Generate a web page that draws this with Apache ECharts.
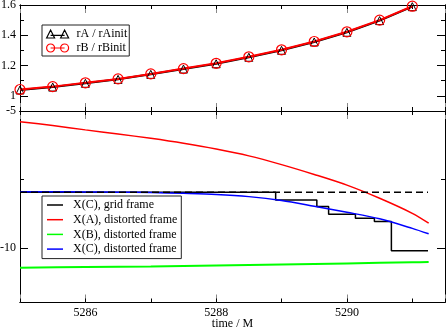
<!DOCTYPE html>
<html><head><meta charset="utf-8">
<script src="https://cdn.jsdelivr.net/npm/echarts@6/dist/echarts.min.js"></script>
<style>html,body{margin:0;padding:0;background:#fff}#c{width:447px;height:329px}</style>
</head><body><div id="c"></div>
<script>
// ---- data ----
const times = [5285, 5285.5, 5286, 5286.5, 5287, 5287.5, 5288, 5288.5, 5289, 5289.5, 5290, 5290.5, 5291];
const rA = [1.039, 1.058, 1.083, 1.109, 1.142, 1.177, 1.212, 1.255, 1.301, 1.356, 1.420, 1.497, 1.589];
const rB = [1.042, 1.061, 1.086, 1.112, 1.145, 1.180, 1.215, 1.258, 1.304, 1.359, 1.423, 1.500, 1.592];

const tCurve = [5285, 5285.5, 5286, 5286.5, 5287, 5287.5, 5288, 5288.5, 5289, 5289.5, 5290, 5290.5, 5291, 5291.25];
const XA = [-5.39, -5.53, -5.69, -5.84, -6.00, -6.18, -6.39, -6.64, -6.96, -7.32, -7.71, -8.19, -8.74, -9.10];
const XC = [-7.95, -7.95, -7.96, -7.97, -7.98, -8.01, -8.05, -8.13, -8.27, -8.48, -8.70, -8.94, -9.29, -9.49];

const tB = [5285, 5286, 5287, 5288, 5289, 5290, 5291, 5291.25];
const XB = [-10.73, -10.70, -10.68, -10.65, -10.61, -10.57, -10.53, -10.52];

const tGrid = [5285, 5288.91, 5289.54, 5289.72, 5290.13, 5290.42, 5290.68, 5291.24];
const XCgrid = [-7.97, -8.25, -8.49, -8.77, -8.92, -9.04, -10.11, -10.11];

const tRef = [5285, 5291.24];
const XCref = [-7.97, -7.97];

const topLegend = ['rA / rAinit', 'rB / rBinit'];
const botLegend = ['X(C), grid frame', 'X(A), distorted frame', 'X(B), distorted frame', 'X(C), distorted frame'];
const xLabelVals = [5286, 5288, 5290];
const yTopLabelVals = [1, 1.2, 1.4, 1.6];
const yBotLabelVals = [-10, -5];
const xName = 'time / M';

// ---- build ----
const FONT = 'Liberation Serif';
const zip = (xs, ys) => xs.map((x, i) => [x, ys[i]]);
const hasVal = (arr, v) => arr.some(a => Math.abs(a - v) < 1e-6);

const X_MIN = 5285, X_MAX = 5291.5;
function xAxis(grid, pos, major, opts) {
  return Object.assign({
    type: 'value', gridIndex: grid, position: pos, min: X_MIN, max: X_MAX,
    minInterval: major ? 2 : 1, maxInterval: major ? 2 : 1, splitNumber: 3,
    axisLine: { show: true, onZero: false, lineStyle: { color: '#000', width: 1 } },
    axisTick: { show: true, inside: true, length: major ? 8 : 4, lineStyle: { color: major ? '#888' : '#000', width: 1 } },
    axisLabel: { show: false },
    splitLine: { show: false }
  }, opts || {});
}
function yAxis(grid, pos, min, max, iv, major, labels) {
  return {
    type: 'value', gridIndex: grid, position: pos, min: min, max: max,
    minInterval: iv, maxInterval: iv, splitNumber: Math.round((max - min) / iv),
    axisLine: { show: true, onZero: false, lineStyle: { color: '#000', width: 1 } },
    axisTick: { show: true, inside: true, length: major ? 8 : 4, lineStyle: { color: '#000', width: 1 } },
    axisLabel: labels ? {
      show: true, margin: 4, fontFamily: FONT, fontSize: 12, color: '#000',
      formatter: v => hasVal(labels, v) ? String(+v.toFixed(2)) : ''
    } : { show: false },
    splitLine: { show: false }
  };
}

const xAxes = [
  xAxis(0, 'bottom', true),
  xAxis(0, 'bottom', false),
  xAxis(0, 'top', true),
  xAxis(0, 'top', false),
  xAxis(1, 'bottom', true, {
    axisLabel: { show: true, margin: 4, fontFamily: FONT, fontSize: 12, color: '#000',
      formatter: v => hasVal(xLabelVals, v) ? String(v) : '' },
    name: xName, nameLocation: 'middle', nameGap: 15, nameMoveOverlap: false,
    nameTextStyle: { fontFamily: FONT, fontSize: 12, color: '#000' }
  }),
  xAxis(1, 'bottom', false),
  xAxis(1, 'top', true),
  xAxis(1, 'top', false)
];
const yAxes = [
  yAxis(0, 'left', 0.9, 1.6, 0.2, true, yTopLabelVals),
  yAxis(0, 'left', 0.9, 1.6, 0.1, false),
  yAxis(0, 'right', 0.9, 1.6, 0.2, true),
  yAxis(0, 'right', 0.9, 1.6, 0.1, false),
  yAxis(1, 'left', -12, -5, 5, true, yBotLabelVals),
  yAxis(1, 'left', -12, -5, 2.5, false),
  yAxis(1, 'right', -12, -5, 5, true),
  yAxis(1, 'right', -12, -5, 2.5, false)
];

const triIcon = 'path://M0,8 L4,0 L8,8 Z M4,5.3 L18,5.3 M14,8 L18,0 L22,8 Z';
const cirIcon = 'path://M0,4 A4,4 0 1 1 8,4 A4,4 0 1 1 0,4 Z M4,4 L18,4 M14,4 A4,4 0 1 1 22,4 A4,4 0 1 1 14,4 Z';

const option = {
  animation: false,
  backgroundColor: '#fff',
  grid: [
    { left: 20, right: 2, top: 5, height: 106, outerBoundsMode: 'none', containLabel: false },
    { left: 20, right: 2, top: 111, height: 191.5, outerBoundsMode: 'none', containLabel: false }
  ],
  xAxis: xAxes,
  yAxis: yAxes,
  legend: [
    {
      left: 42, top: 25, orient: 'vertical', selectedMode: false,
      itemWidth: 22, itemHeight: 8, itemGap: 0,
      padding: [2, 2, 1, 4],
      borderColor: '#222', borderWidth: 1, backgroundColor: '#fff',
      textStyle: { fontFamily: FONT, fontSize: 12, color: '#000', lineHeight: 14, padding: [0, 0, 0, 3] },
      data: [
        { name: topLegend[0], icon: triIcon, itemStyle: { color: 'rgba(0,0,0,0)', borderColor: '#000', borderWidth: 1.2 } },
        { name: topLegend[1], icon: cirIcon, itemStyle: { color: 'rgba(0,0,0,0)', borderColor: '#f00', borderWidth: 1.2 } }
      ]
    },
    {
      left: 42, top: 196, orient: 'vertical', selectedMode: false,
      itemWidth: 16, itemHeight: 1.5, itemGap: 0.7,
      padding: [2, 4, 2.5, 5],
      borderColor: '#222', borderWidth: 1, backgroundColor: '#fff',
      textStyle: { fontFamily: FONT, fontSize: 12, color: '#000', lineHeight: 14, padding: [0, 0, 0, 5] },
      data: [
        { name: botLegend[0], icon: 'rect', itemStyle: { color: '#000', borderWidth: 0 } },
        { name: botLegend[1], icon: 'rect', itemStyle: { color: '#f00', borderWidth: 0 } },
        { name: botLegend[2], icon: 'rect', itemStyle: { color: '#0f0', borderWidth: 0 } },
        { name: botLegend[3], icon: 'rect', itemStyle: { color: '#00f', borderWidth: 0 } }
      ]
    }
  ],
  series: [
    {
      name: topLegend[0], type: 'line', xAxisIndex: 0, yAxisIndex: 0,
      data: zip(times, rA), symbol: 'triangle', symbolSize: 8,
      itemStyle: { color: 'rgba(0,0,0,0)', borderColor: '#000', borderWidth: 1 },
      lineStyle: { color: '#000', width: 2 }
    },
    {
      name: topLegend[1], type: 'line', xAxisIndex: 0, yAxisIndex: 0,
      data: zip(times, rB), symbol: 'circle', symbolSize: 10,
      itemStyle: { color: 'rgba(0,0,0,0)', borderColor: '#f00', borderWidth: 1.2 },
      lineStyle: { color: '#f00', width: 2 }
    },
    {
      name: botLegend[0], type: 'line', xAxisIndex: 4, yAxisIndex: 4,
      data: zip(tGrid, XCgrid), step: 'end', showSymbol: false, symbol: 'none',
      itemStyle: { color: '#000' }, lineStyle: { color: '#000', width: 1.5 }
    },
    {
      name: botLegend[1], type: 'line', xAxisIndex: 4, yAxisIndex: 4,
      data: zip(tCurve, XA), smooth: 0.3, showSymbol: false, symbol: 'none',
      itemStyle: { color: '#f00' }, lineStyle: { color: '#f00', width: 1.5 }
    },
    {
      name: botLegend[2], type: 'line', xAxisIndex: 4, yAxisIndex: 4,
      data: zip(tB, XB), smooth: 0.3, showSymbol: false, symbol: 'none',
      itemStyle: { color: '#0f0' }, lineStyle: { color: '#0f0', width: 2 }
    },
    {
      name: botLegend[3], type: 'line', xAxisIndex: 4, yAxisIndex: 4,
      data: zip(tCurve, XC), smooth: 0.3, showSymbol: false, symbol: 'none',
      itemStyle: { color: '#00f' }, lineStyle: { color: '#00f', width: 1.5 }
    },
    {
      name: 'ref', type: 'line', xAxisIndex: 4, yAxisIndex: 4,
      data: zip(tRef, XCref), showSymbol: false, symbol: 'none',
      itemStyle: { color: '#000' }, lineStyle: { color: '#000', width: 1.5, type: [7, 4] }
    }
  ]
};
const chart = echarts.init(document.getElementById('c'), null, { renderer: 'canvas' });
chart.setOption(option);
</script></body></html>
